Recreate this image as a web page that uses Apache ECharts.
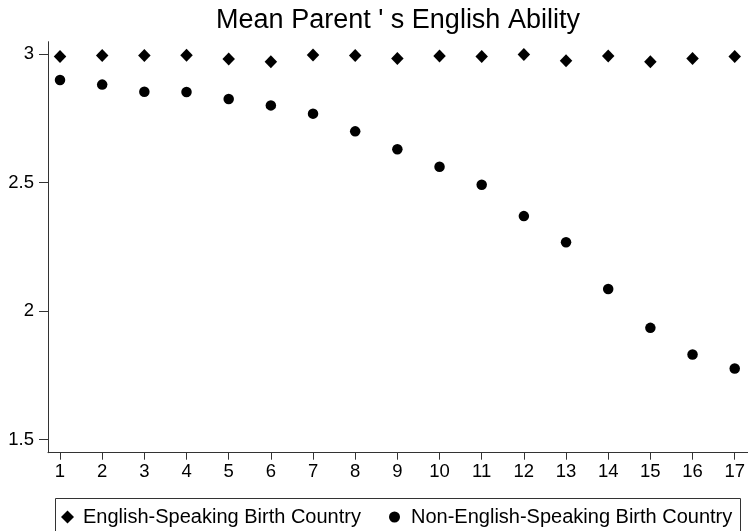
<!DOCTYPE html>
<html>
<head>
<meta charset="utf-8">
<script src="https://cdn.jsdelivr.net/npm/echarts@6/dist/echarts.min.js"></script>
<style>html,body{margin:0;padding:0;background:#fff;}#c{width:748px;height:531px;}</style>
</head>
<body>
<div id="c"></div>
<script>
const xValues = [1, 2, 3, 4, 5, 6, 7, 8, 9, 10, 11, 12, 13, 14, 15, 16, 17];
const englishSpeaking = [2.991, 2.995, 2.995, 2.996, 2.982, 2.971, 2.997, 2.995, 2.984, 2.993, 2.991, 2.999, 2.975, 2.993, 2.971, 2.984, 2.991];
const nonEnglishSpeaking = [2.900, 2.882, 2.854, 2.853, 2.826, 2.801, 2.769, 2.700, 2.630, 2.562, 2.492, 2.370, 2.268, 2.086, 1.935, 1.831, 1.777];
const yTicks = [1.5, 2, 2.5, 3];
const xTicks = [1, 2, 3, 4, 5, 6, 7, 8, 9, 10, 11, 12, 13, 14, 15, 16, 17];
const seriesNames = ['English-Speaking Birth Country', 'Non-English-Speaking Birth Country'];
const titleText = "Mean Parent ' s English Ability";

const FONT = 'Liberation Sans, Arial, sans-serif';
const chart = echarts.init(document.getElementById('c'), null, {renderer: 'canvas'});
const axisColor = '#333';

chart.setOption({
  animation: false,
  backgroundColor: '#fff',
  textStyle: {fontFamily: FONT, color: '#000'},
  title: {
    text: titleText,
    left: 398, top: 7, padding: 0,
    textAlign: 'center',
    textStyle: {fontSize: 27, fontWeight: 'normal', color: '#000', fontFamily: FONT}
  },
  grid: {left: 48, right: 0, top: 41.7, bottom: 78.3, containLabel: false},
  xAxis: {
    type: 'value', min: 0.715, max: 17.31,
    axisLine: {show: true, onZero: false, lineStyle: {color: axisColor, width: 1}},
    axisTick: {show: true, length: 7, customValues: xTicks, lineStyle: {color: axisColor, width: 1}},
    axisLabel: {customValues: xTicks, margin: 10, fontSize: 18.5, color: '#000', fontFamily: FONT},
    splitLine: {show: false}
  },
  yAxis: {
    type: 'value', min: 1.449, max: 3.049,
    axisLine: {show: true, onZero: false, lineStyle: {color: axisColor, width: 1}},
    axisTick: {show: true, length: 9, customValues: yTicks, lineStyle: {color: axisColor, width: 1}},
    axisLabel: {customValues: yTicks, margin: 14, fontSize: 18.5, color: '#000', fontFamily: FONT},
    splitLine: {show: false}
  },
  legend: [
    {
      data: [{name: seriesNames[0], icon: 'diamond'}],
      left: 61, top: 507, padding: 0,
      itemWidth: 13, itemHeight: 13,
      itemStyle: {opacity: 1},
      textStyle: {fontSize: 20, color: '#000', fontFamily: FONT, padding: [0, 0, 0, 4]}
    },
    {
      data: [{name: seriesNames[1], icon: 'circle'}],
      left: 389, top: 507, padding: 0,
      itemWidth: 11, itemHeight: 11,
      itemStyle: {opacity: 1},
      textStyle: {fontSize: 20, color: '#000', fontFamily: FONT, padding: [0, 0, 0, 6]}
    }
  ],
  graphic: [{
    type: 'rect', silent: true,
    shape: {x: 55.5, y: 498.5, width: 685, height: 50},
    style: {fill: 'none', stroke: axisColor, lineWidth: 1}
  }],
  series: [
    {
      name: seriesNames[0], type: 'scatter', symbol: 'diamond', symbolSize: [12.5, 13],
      itemStyle: {color: '#000', opacity: 1},
      data: xValues.map((x, i) => [x, englishSpeaking[i]])
    },
    {
      name: seriesNames[1], type: 'scatter', symbol: 'circle', symbolSize: 10.5,
      itemStyle: {color: '#000', opacity: 1},
      data: xValues.map((x, i) => [x, nonEnglishSpeaking[i]])
    }
  ]
});
</script>
</body>
</html>
